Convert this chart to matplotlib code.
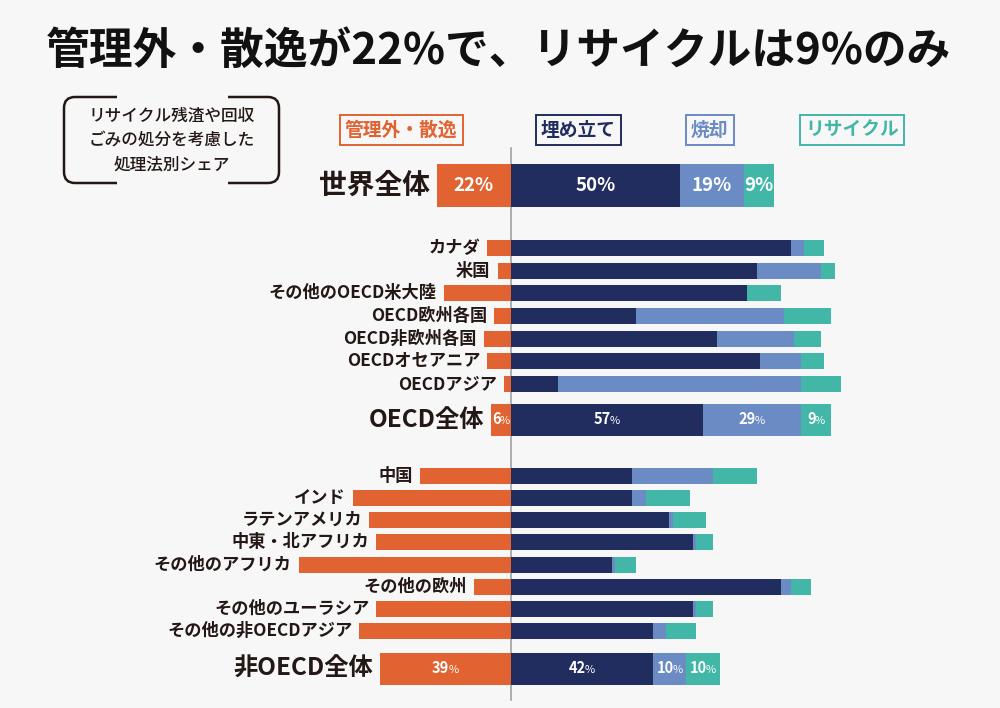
import matplotlib
matplotlib.use("Agg")
import matplotlib.pyplot as plt
from matplotlib.path import Path
from matplotlib.patches import PathPatch
from matplotlib.offsetbox import TextArea, HPacker, AnnotationBbox

plt.rcParams['font.family'] = ['Noto Sans CJK JP', 'DejaVu Sans']

# data (% of plastic waste by treatment)
regions = ['世界全体', 'カナダ', '米国', 'その他のOECD米大陸', 'OECD欧州各国',
           'OECD非欧州各国', 'OECDオセアニア', 'OECDアジア', 'OECD全体',
           '中国', 'インド', 'ラテンアメリカ', '中東・北アフリカ', 'その他のアフリカ',
           'その他の欧州', 'その他のユーラシア', 'その他の非OECDアジア', '非OECD全体']
mismanaged = [22, 7, 4, 20, 5, 8, 7, 2, 6, 27, 47, 42, 40, 63, 11, 40, 45, 39]
landfill = [50, 83, 73, 70, 37, 61, 74, 14, 57, 36, 36, 47, 54, 30, 80, 54, 42, 42]
incinerated = [19, 4, 19, 0, 44, 23, 12, 72, 29, 24, 4, 1, 1, 1, 3, 1, 4, 10]
recycled = [9, 6, 4, 10, 14, 8, 7, 12, 9, 13, 13, 10, 5, 6, 6, 5, 9, 10]
kinds = ['world', 'r', 'r', 'r', 'r', 'r', 'r', 'r', 'total',
         'r', 'r', 'r', 'r', 'r', 'r', 'r', 'r', 'total']
legend_labels = ['管理外・散逸', '埋め立て', '焼却', 'リサイクル']
title = '管理外・散逸が22%で、リサイクルは9%のみ'
note = 'リサイクル残渣や回収\nごみの処分を考慮した\n処理法別シェア'

# layout (pixels)
row_y = [185.5, 248, 270.7, 293.3, 316, 338.7, 361.3, 384, 420,
         475.7, 498, 520, 542.3, 564.5, 587, 609, 631, 668.5]
bar_h = {'world': 43, 'r': 16, 'total': 32}
label_fs = {'world': 20, 'r': 12.4, 'total': 17.5}

ORANGE = '#e06331'
NAVY = '#222d5f'
BLUE = '#6a8bc3'
TEAL = '#42b6a7'
INK = '#231815'
BG = '#f7f7f7'
colors = [ORANGE, NAVY, BLUE, TEAL]

W, H = 1000, 708
CX = 511
PX = 3.37  # pixels per percent

fig = plt.figure(figsize=(W / 100, H / 100), dpi=100, facecolor=BG)
ax = fig.add_axes([0, 0, 1, 1])
ax.set_xlim(-CX / PX, (W - CX) / PX)
ax.set_ylim(H, 0)
ax.axis('off')

heights = [bar_h[k] for k in kinds]
ax.plot([0, 0], [148, 700], color='#9a9a9a', lw=1.1, zorder=1)
ax.barh(row_y, [-m for m in mismanaged], height=heights, color=ORANGE, zorder=2)
ax.barh(row_y, landfill, height=heights, color=NAVY, zorder=2)
ax.barh(row_y, incinerated, left=landfill, height=heights, color=BLUE, zorder=2)
left3 = [a + b for a, b in zip(landfill, incinerated)]
ax.barh(row_y, recycled, left=left3, height=heights, color=TEAL, zorder=2)

# category labels
for name, m, y, k in zip(regions, mismanaged, row_y, kinds):
    ax.annotate(name, (-m, y), xytext=(-5, 0), textcoords='offset points',
                ha='right', va='center', fontsize=label_fs[k],
                fontweight='bold', color=INK)


def pct_label(x, y, value, big):
    if big:
        ax.text(x, y, f'{value}%', ha='center', va='center', color='white',
                fontsize=13.5, fontweight='bold', zorder=4)
        return
    num = TextArea(str(value), textprops=dict(color='white', fontsize=10.5,
                                              fontweight='bold'))
    pct = TextArea('%', textprops=dict(color='white', fontsize=8,
                                       fontweight='normal'))
    pack = HPacker(children=[num, pct], align='baseline', pad=0, sep=-0.8)
    ab = AnnotationBbox(pack, (x, y), frameon=False, box_alignment=(0.5, 0.45),
                        pad=0, zorder=4)
    ax.add_artist(ab)


for i, k in enumerate(kinds):
    if k == 'r':
        continue
    big = k == 'world'
    y = row_y[i]
    pct_label(-mismanaged[i] / 2, y, mismanaged[i], big)
    pct_label(landfill[i] / 2, y, landfill[i], big)
    pct_label(landfill[i] + incinerated[i] / 2, y, incinerated[i], big)
    pct_label(left3[i] + recycled[i] / 2, y, recycled[i], big)

# overlay in pixel coordinates for title, legend, note
ov = fig.add_axes([0, 0, 1, 1])
ov.set_xlim(0, W)
ov.set_ylim(H, 0)
ov.axis('off')
ov.patch.set_alpha(0)

ov.text(499, 51, title, ha='center', va='center', fontsize=31.5,
        fontweight='bold', color='#111111')

legend_x = [401, 578.5, 709.5, 852]
for lab, c, x in zip(legend_labels, colors, legend_x):
    ov.text(x, 130, lab, ha='center', va='center', fontsize=13.5,
            fontweight='bold', color=c,
            bbox=dict(boxstyle='square,pad=0.28', fc='none', ec=c, lw=1.4))


def bracket(x_edge, x_inner, y0, y1, r):
    s = 1 if x_inner > x_edge else -1
    verts = [(x_inner, y0), (x_edge + s * r, y0), (x_edge, y0), (x_edge, y0 + r),
             (x_edge, y1 - r), (x_edge, y1), (x_edge + s * r, y1), (x_inner, y1)]
    codes = [Path.MOVETO, Path.LINETO, Path.CURVE3, Path.CURVE3,
             Path.LINETO, Path.CURVE3, Path.CURVE3, Path.LINETO]
    ov.add_patch(PathPatch(Path(verts, codes), fc='none', ec=INK, lw=1.8,
                           capstyle='butt'))


bracket(64, 117, 97, 183, 11)
bracket(279, 228, 97, 183, 11)
ov.text(172, 140, note, ha='center', va='center', fontsize=12,
        fontweight='medium', color=INK, linespacing=1.45)

fig.savefig('out.png', dpi=100, facecolor=BG)
